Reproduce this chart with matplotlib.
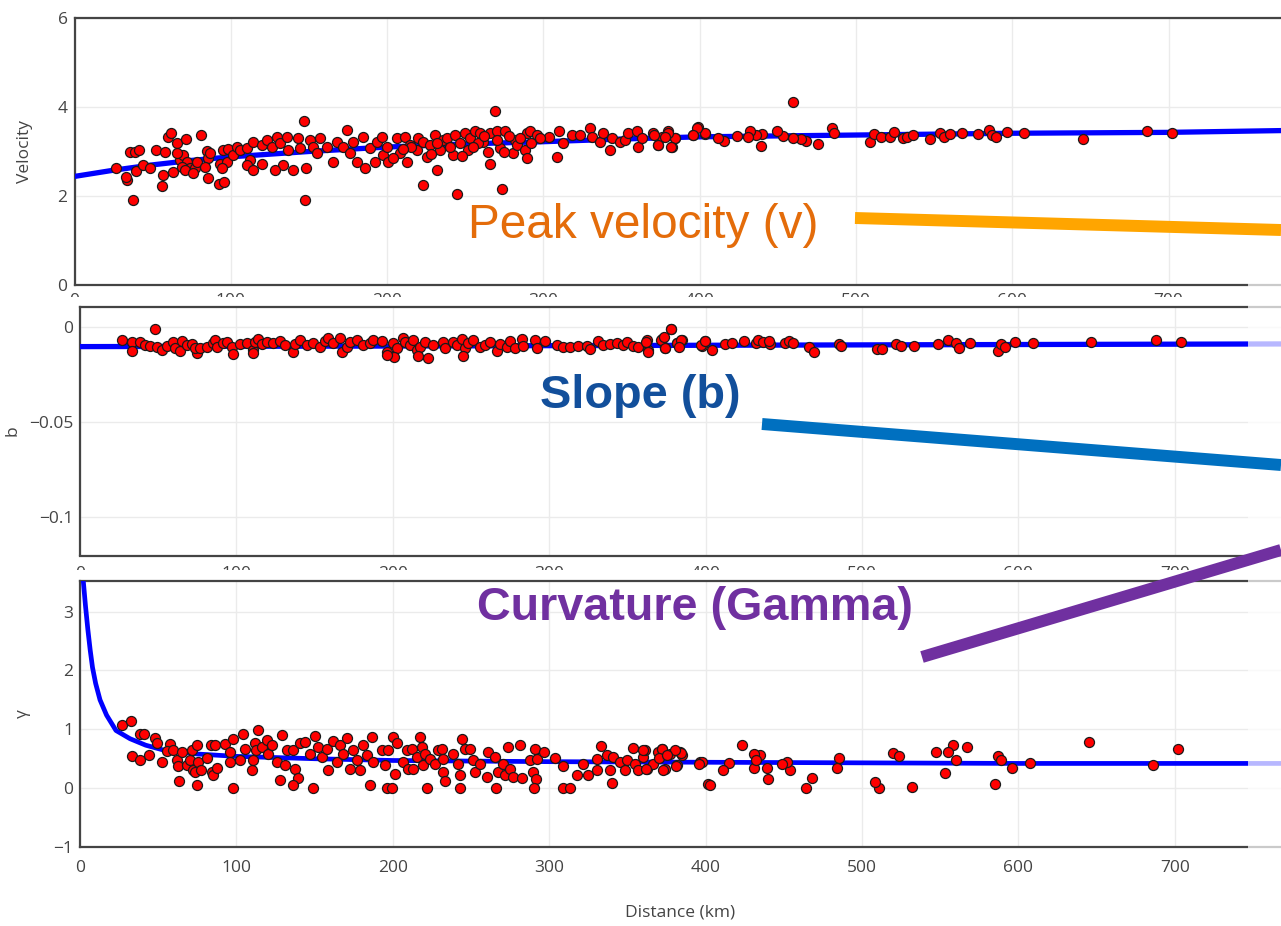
import matplotlib
matplotlib.use('Agg')
import matplotlib.pyplot as plt
from matplotlib.patches import Rectangle
from matplotlib.lines import Line2D
import matplotlib.transforms as mtransforms

# ---- data ----
vel_dist = [26.5, 33.4, 33.0, 37.6, 35.5, 38.7, 41.5, 39.3, 44.0, 48.3, 55.8, 56.4, 52.0, 57.9, 59.6, 61.5,
            65.4, 71.3, 63.2, 67.5, 69.6, 71.8, 73.9, 68.6, 70.7, 77.1, 78.2, 76.0, 65.4, 80.7, 84.6, 85.6,
            86.7, 83.5, 85.6, 92.7, 95.6, 93.1, 97.4, 94.2, 95.0, 98.4, 101.6, 103.8, 105.9, 110.2, 114.4,
            112.3, 110.2, 114.4, 119.8, 119.8, 123.0, 126.1, 129.4, 131.5, 133.6, 128.3, 135.7, 136.8, 140.0,
            143.2, 144.3, 146.8, 148.1, 147.5, 150.7, 152.8, 155.0, 157.1, 161.3, 165.6, 167.7, 172.0, 174.1,
            176.3, 178.4, 180.5, 184.8, 185.9, 189.0, 192.3, 193.3, 196.5, 197.6, 199.7, 200.8,
            206.2, 211.5, 214.7, 208.3, 204.0, 212.6, 219.0, 220.0, 223.2, 225.4, 223.2, 231.8, 227.5, 230.7,
            233.9, 236.0, 238.2, 242.4, 244.6, 243.5, 246.7, 249.9, 252.0, 253.1, 256.3, 259.5, 261.6, 264.8,
            265.9, 265.9, 269.1, 270.2, 272.3, 273.4, 275.5, 280.8, 281.9, 283.0, 288.3, 289.4, 289.4, 291.5,
            295.8, 303.9, 308.6, 310.3, 312.8, 318.2, 323.5, 329.9, 331.0, 336.3, 338.4, 342.7, 343.7, 349.1,
            352.3, 354.4, 359.7, 360.8, 362.9, 370.4, 373.6, 375.7, 380.0, 382.1, 384.3, 396.0, 398.6, 403.5,
            215.0, 228.0, 240.0, 248.0, 258.0, 262.0, 270.0, 278.0, 285.0, 292.0, 298.0, 210.0, 232.0, 255.0,
            275.0,
            459.7, 484.5, 485.8, 475.4, 468.3, 465.0, 459.7, 453.2, 449.3, 439.3, 440.1, 436.2, 432.3, 431.0,
            423.7, 415.8, 411.9, 403.6, 398.4, 395.7, 384.0, 381.4, 373.5, 371.0, 380.0, 377.5,
            508.8, 511.2, 515.8, 521.6, 524.2, 530.2, 532.8, 536.7, 547.2, 553.7, 556.3, 560.2, 567.5, 578.0,
            585.0, 586.9, 589.5, 596.3, 607.8, 645.1, 686.1, 702.0]
vel = [2.62, 2.36, 2.43, 1.91, 2.98, 3.00, 3.03, 2.56, 2.70, 2.64, 2.23, 2.47, 3.03, 3.00, 3.33, 3.41,
       3.18, 3.27, 2.53, 2.81, 2.92, 2.77, 2.62, 2.66, 2.58, 2.64, 2.77, 2.51, 2.96, 3.36, 3.01, 2.85,
       2.96, 2.66, 2.41, 2.26, 2.31, 2.73, 2.77, 2.62, 3.03, 3.06, 2.92, 3.11, 3.03, 3.07, 3.21,
       2.81, 2.70, 2.58, 3.15, 2.73, 3.26, 3.11, 3.33, 3.18, 2.70, 2.58, 3.33, 3.03, 2.58,
       3.30, 3.07, 3.69, 2.62, 1.91, 3.26, 3.11, 2.96, 3.30, 3.11, 2.77, 3.22, 3.11, 3.48,
       2.96, 3.22, 2.77, 3.33, 2.62, 3.07, 2.77, 3.22, 3.33, 2.92, 3.11, 2.77,
       3.30, 3.33, 3.15, 2.96, 2.85, 2.77, 3.03, 3.30, 3.22, 2.88, 2.25, 2.58, 3.15, 3.37,
       3.03, 3.26, 3.30, 2.92, 2.04, 3.37, 3.18, 3.41, 3.03, 3.30, 3.45, 3.41, 3.22, 3.00,
       2.73, 3.41, 3.90, 3.45, 3.07, 2.15, 3.46, 2.96, 3.26, 3.15, 3.03, 2.86, 3.41, 3.45,
       3.37, 3.33, 2.88, 3.45, 3.18, 3.36, 3.36, 3.52, 3.33, 3.22, 3.41, 3.03, 3.30, 3.22,
       3.26, 3.41, 3.45, 3.11, 3.30, 3.41, 3.15, 3.33, 3.45, 3.11, 3.30, 3.37, 3.54, 3.39,
       3.10, 2.95, 3.10, 2.90, 3.20, 3.35, 3.25, 3.35, 3.30, 3.20, 3.30, 3.05, 3.20, 3.10,
       3.00,
       4.12, 3.52, 3.41, 3.17, 3.24, 3.27, 3.30, 3.35, 3.45, 3.13, 3.39, 3.37, 3.45, 3.33,
       3.35, 3.24, 3.30, 3.41, 3.52, 3.37, 3.30, 3.11, 3.15, 3.37, 3.41, 3.33,
       3.21, 3.39, 3.33, 3.32, 3.44, 3.30, 3.33, 3.37, 3.28, 3.41, 3.33, 3.39, 3.42, 3.39,
       3.48, 3.36, 3.32, 3.44, 3.42, 3.27, 3.45, 3.41]
vel_fit_dist = [0, 25, 50, 75, 100, 150, 200, 250, 300, 350, 400, 500, 600, 700, 772]
vel_fit = [2.44, 2.58, 2.70, 2.80, 2.88, 3.00, 3.10, 3.17, 3.22, 3.28, 3.33, 3.37, 3.41, 3.43, 3.47]

b_dist = [26.6, 47.9, 33.0, 33.0, 38.4, 41.6, 44.8, 49.0, 52.2, 55.4, 59.7, 60.7, 63.9, 65.0, 68.2, 71.4,
          74.6, 73.5, 76.7, 81.0, 85.2, 86.3, 87.4, 91.6, 93.8, 97.0, 98.0, 102.3, 106.6, 110.8, 111.9,
          114.0, 116.1, 119.3, 123.6, 127.9, 131.1, 136.4, 137.4, 140.6, 144.9, 149.2, 153.4, 156.6, 158.8,
          162.0, 166.2, 167.3, 170.5, 172.6, 176.9, 181.1, 185.4, 187.5, 192.9, 196.1,
          200.3, 202.5, 206.7, 207.8, 211.0, 213.1, 215.2, 217.4, 220.6, 222.7, 225.9, 232.3, 233.4, 238.7,
          240.8, 244.0, 246.1, 248.3, 251.5, 255.7, 258.9, 262.1, 266.4, 268.5, 272.8, 274.9, 278.1, 282.4,
          283.4, 290.9, 292.0, 297.3, 304.7, 309.0, 313.3, 318.6, 323.9, 326.1, 331.4, 334.6, 338.8, 343.1,
          347.4, 349.5, 353.8, 357.0, 362.3, 363.4, 371.9, 377.6, 374.0, 381.5, 384.7, 397.4, 399.6,
          200.6, 196.0, 216.0, 245.0, 110.6,
          362.0, 363.3, 371.2, 373.2, 377.7, 374.3, 381.6, 384.2, 382.9, 397.3, 399.3, 404.3, 412.4, 416.8,
          424.7, 432.5, 433.8, 436.9, 441.1, 440.3, 450.8, 453.4, 456.0, 465.9, 469.5, 485.5, 486.5, 509.5,
          513.1, 522.0, 525.1, 533.5, 548.4, 555.2, 560.4, 562.2, 569.0, 586.7, 588.6, 591.2, 597.7, 609.2,
          646.5, 688.0, 703.7]
b_slope = [-0.0070, -0.0012, -0.0079, -0.0128, -0.0082, -0.0096, -0.0100, -0.0105, -0.0123, -0.0100,
           -0.0079, -0.0110, -0.0128, -0.0075, -0.0096, -0.0093, -0.0140, -0.0114, -0.0114, -0.0105,
           -0.0087, -0.0070, -0.0105, -0.0087, -0.0079, -0.0105, -0.0145, -0.0093, -0.0087, -0.0123,
           -0.0079, -0.0065, -0.0093, -0.0079, -0.0087, -0.0075, -0.0096, -0.0131, -0.0093, -0.0070,
           -0.0096, -0.0087, -0.0105, -0.0075, -0.0061, -0.0087, -0.0058, -0.0135, -0.0105, -0.0079,
           -0.0070, -0.0096, -0.0087, -0.0070, -0.0075, -0.0135,
           -0.0087, -0.0114, -0.0061, -0.0079, -0.0096, -0.0070, -0.0123, -0.0105, -0.0079, -0.0163,
           -0.0096, -0.0079, -0.0114, -0.0079, -0.0096, -0.0065, -0.0114, -0.0087, -0.0070, -0.0105,
           -0.0096, -0.0079, -0.0128, -0.0093, -0.0105, -0.0075, -0.0114, -0.0065, -0.0100, -0.0070,
           -0.0114, -0.0075, -0.0096, -0.0105, -0.0105, -0.0100, -0.0100, -0.0117, -0.0075, -0.0096,
           -0.0093, -0.0087, -0.0096, -0.0079, -0.0100, -0.0105, -0.0070, -0.0123, -0.0065, -0.0012,
           -0.0114, -0.0087, -0.0070, -0.0100, -0.0075,
           -0.0158, -0.0147, -0.0155, -0.0155, -0.0140,
           -0.0079, -0.0131, -0.0070, -0.0052, -0.0014, -0.0114, -0.0088, -0.0070, -0.0105, -0.0096,
           -0.0073, -0.0123, -0.0093, -0.0088, -0.0073, -0.0084, -0.0070, -0.0079, -0.0093, -0.0073,
           -0.0084, -0.0073, -0.0088, -0.0109, -0.0131, -0.0093, -0.0102, -0.0116, -0.0119, -0.0091,
           -0.0100, -0.0102, -0.0091, -0.0070, -0.0088, -0.0110, -0.0084, -0.0128, -0.0093, -0.0105,
           -0.0079, -0.0088, -0.0079, -0.0070, -0.0082]
b_fit_dist = [0, 200, 400, 600, 768]
b_fit = [-0.0105, -0.0102, -0.0098, -0.0094, -0.0091]

g_dist = [26.6, 32.6, 33.0, 38.4, 38.4, 41.1, 44.3, 48.0, 49.0, 52.2, 57.5, 55.8, 59.7, 61.8, 62.9, 63.3,
          65.0, 68.2, 70.3, 71.4, 72.5, 73.5, 74.6, 75.7, 77.1, 74.6, 81.0, 83.5, 86.3, 84.2, 85.2, 87.4,
          92.7, 95.9, 97.6, 95.9, 97.6, 102.3, 104.4, 105.5, 109.7, 110.8, 111.9, 112.5, 114.0, 116.1,
          119.3, 120.4, 122.5, 125.7, 128.9, 127.9, 131.1, 132.1, 136.4, 137.4, 139.6, 136.4, 140.6, 143.8,
          147.0, 149.2, 150.2, 152.4, 154.5, 157.7, 158.8, 162.0, 164.1, 166.2, 168.3, 170.5, 172.6, 174.7,
          176.9, 179.0, 181.1, 183.3, 185.4, 186.5, 187.5, 192.9, 195.0, 196.1, 197.1,
          200.3, 202.5, 201.4, 199.3, 206.7, 208.9, 209.9, 212.0, 213.1, 215.2, 217.4, 218.4, 219.5, 220.6,
          221.6, 223.8, 227.0, 229.1, 231.2, 232.3, 233.4, 232.3, 238.7, 241.9, 243.0, 244.0, 243.0, 246.1,
          249.3, 251.5, 252.5, 255.7, 260.0, 261.1, 265.3, 266.0, 267.5, 270.7, 271.7, 273.9, 274.9, 277.0,
          281.3, 282.4, 287.7, 289.8, 290.9, 291.3, 290.3, 292.0, 296.7, 303.7, 309.0, 308.6, 313.3, 317.5,
          321.8, 325.0, 330.3, 330.3, 332.9, 336.7, 338.8, 339.9, 341.0, 345.2, 348.4, 349.5, 353.8, 354.8,
          357.0, 360.2, 361.2, 362.3, 366.5, 369.7, 371.9, 374.0, 377.2, 381.5, 383.6, 384.7, 396.4, 401.7,
          645.0, 702.0, 686.0, 607.6, 596.0, 585.0, 587.0, 589.0, 567.0, 558.5, 555.0, 560.0, 553.0, 547.0,
          532.0, 511.0, 508.0, 520.0, 523.5, 485.0, 484.0, 468.0, 464.0, 454.0, 452.0, 448.6, 440.0, 439.0,
          435.0, 431.0, 431.0, 432.0, 423.5, 415.0, 411.0, 403.0, 397.6, 395.6, 384.0, 381.0, 380.7, 373.0,
          372.0, 370.0, 375.0, 361.6, 360.0]
gamma = [1.08, 1.14, 0.54, 0.48, 0.92, 0.92, 0.57, 0.86, 0.77, 0.45, 0.75, 0.63, 0.64, 0.48, 0.37, 0.12,
         0.61, 0.39, 0.48, 0.65, 0.30, 0.27, 0.73, 0.44, 0.30, 0.05, 0.52, 0.74, 0.73, 0.27, 0.23, 0.35,
         0.75, 0.61, 0.84, 0.44, 0.01, 0.47, 0.92, 0.67, 0.30, 0.47, 0.77, 0.64, 0.99, 0.70,
         0.81, 0.58, 0.73, 0.44, 0.91, 0.14, 0.39, 0.64, 0.64, 0.33, 0.18, 0.05, 0.76, 0.78,
         0.58, 0.01, 0.88, 0.70, 0.53, 0.67, 0.30, 0.80, 0.44, 0.73, 0.58, 0.86, 0.33, 0.64,
         0.47, 0.30, 0.73, 0.57, 0.06, 0.87, 0.44, 0.64, 0.39, 0.01, 0.64,
         0.87, 0.76, 0.24, 0.01, 0.44, 0.64, 0.33, 0.67, 0.33, 0.53, 0.87, 0.70, 0.39, 0.58,
         0.01, 0.50, 0.41, 0.64, 0.67, 0.27, 0.13, 0.50, 0.58, 0.41, 0.01, 0.84, 0.22, 0.67,
         0.67, 0.47, 0.27, 0.41, 0.19, 0.61, 0.53, 0.01, 0.27, 0.41, 0.22, 0.70, 0.33, 0.19,
         0.73, 0.18, 0.47, 0.27, 0.67, 0.16, 0.01, 0.50, 0.61, 0.52, 0.37, 0.01, 0.01, 0.22,
         0.41, 0.23, 0.50, 0.30, 0.71, 0.56, 0.31, 0.09, 0.53, 0.44, 0.30, 0.47, 0.69, 0.41,
         0.30, 0.53, 0.64, 0.33, 0.41, 0.61, 0.67, 0.33, 0.58, 0.39, 0.61, 0.56, 0.44, 0.07,
         0.78, 0.67, 0.39, 0.43, 0.35, 0.07, 0.55, 0.47, 0.70, 0.73, 0.61, 0.48, 0.26, 0.61,
         0.02, 0.00, 0.11, 0.59, 0.54, 0.51, 0.34, 0.18, 0.00, 0.31, 0.45, 0.41, 0.16, 0.35,
         0.57, 0.58, 0.35, 0.47, 0.73, 0.42, 0.30, 0.05, 0.44, 0.41, 0.59, 0.37, 0.65, 0.31,
         0.66, 0.51, 0.57, 0.32, 0.65]
g_fit_dist = [2, 3.5, 5, 6.5, 8, 10, 12.8, 17, 23, 32, 42, 53, 75, 100, 150, 200, 300, 400, 500, 600, 700, 768]
g_fit = [3.55, 3.1, 2.7, 2.35, 2.05, 1.78, 1.5, 1.24, 0.98, 0.84, 0.73, 0.65, 0.58, 0.54, 0.50, 0.47,
         0.45, 0.44, 0.43, 0.42, 0.42, 0.42]

x_ticks = [0, 100, 200, 300, 400, 500, 600, 700]
vel_ticks = [0, 2, 4, 6]
b_ticks = [-0.1, -0.05, 0]
b_tick_labels = ['\u22120.1', '\u22120.05', '0']
g_ticks = [-1, 0, 1, 2, 3]
g_tick_labels = ['\u22121', '0', '1', '2', '3']

# ---- layout (pixels of the 1281x926 image) ----
W, H = 1281, 926
fig = plt.figure(figsize=(W / 100, H / 100), dpi=100)
plt.rcParams['font.family'] = ['Open Sans', 'DejaVu Sans']

GREY = '#444444'


def add_panel(left, top, bottom, zorder):
    ax = fig.add_axes([left / W, 1 - bottom / H, (W - left) / W, (bottom - top) / H])
    ax.set_zorder(zorder)
    for side in ['left', 'top', 'bottom']:
        ax.spines[side].set_color(GREY)
        ax.spines[side].set_linewidth(1.6)
    ax.spines['right'].set_visible(False)
    ax.grid(True, color='#ebebeb', linewidth=1.0)
    ax.set_axisbelow(True)
    ax.tick_params(length=0, labelsize=12.5, labelcolor=GREY)
    return ax


def fade(ax, x0, y0=-0.02, y1=1.02, z=10):
    tr = mtransforms.blended_transform_factory(ax.transData, ax.transAxes)
    ax.add_patch(Rectangle((x0, y0), 1000, y1 - y0, transform=tr, facecolor='white',
                           edgecolor='none', alpha=0.72, zorder=z, clip_on=False))


def scatter(ax, x, y):
    ax.scatter(x, y, s=52, c='#ff0000', edgecolors='#1a1a1a', linewidths=0.9, zorder=4)


# top panel
ax1 = add_panel(74.5, 18, 285, 1)
ax1.plot(vel_fit_dist, vel_fit, color='#0000ff', lw=3.8, zorder=3)
scatter(ax1, vel_dist, vel)
ax1.set_xlim(0, (W - 74.5) / 1.563)
ax1.set_ylim(0, 6)
ax1.set_xticks(x_ticks)
ax1.set_yticks(vel_ticks)
ax1.tick_params(axis='x', pad=6)
ax1.tick_params(axis='y', pad=5)
ax1.set_ylabel('Velocity', fontsize=12.5, color=GREY, labelpad=18)
fade(ax1, 750.5, -0.03, 0.03, z=2.6)

# middle panel
ax2 = add_panel(80, 306.5, 555.5, 3)
ax2.plot(b_fit_dist, b_fit, color='#0000ff', lw=3.8, zorder=3)
scatter(ax2, b_dist, b_slope)
ax2.set_xlim(0, (W - 80) / 1.564)
ax2.set_ylim(-0.1204, 0.0106)
ax2.set_xticks(x_ticks)
ax2.set_yticks(b_ticks)
ax2.set_yticklabels(b_tick_labels)
ax2.tick_params(axis='x', pad=7.5)
ax2.tick_params(axis='y', pad=5)
ax2.set_ylabel('b', fontsize=12.5, color=GREY, labelpad=6)
fade(ax2, 747)

# bottom panel
ax3 = add_panel(80, 581, 847, 5)
ax3.plot(g_fit_dist, g_fit, color='#0000ff', lw=3.4, zorder=3)
scatter(ax3, g_dist, gamma)
ax3.set_xlim(0, (W - 80) / 1.564)
ax3.set_ylim(-1, 3.52)
ax3.set_xticks(x_ticks)
ax3.set_yticks(g_ticks)
ax3.set_yticklabels(g_tick_labels)
ax3.tick_params(axis='x', pad=9)
ax3.tick_params(axis='y', pad=5)
ax3.set_ylabel('\u03b3', fontsize=12.5, color=GREY, labelpad=16)
ax3.set_xlabel('Distance (km)', fontsize=12.5, color=GREY, labelpad=21)
fade(ax3, 747)

# white backgrounds of the stacked screenshots, hiding clipped tick labels
fig.patches.append(Rectangle((0, 1 - 570 / H), 1, (570 - 297) / H, transform=fig.transFigure,
                             facecolor='white', edgecolor='none', zorder=2))
fig.patches.append(Rectangle((0, 0), 1, (H - 570) / H, transform=fig.transFigure,
                             facecolor='white', edgecolor='none', zorder=4))

# ---- overlaid annotations ----
narrow = ['Liberation Sans Narrow', 'Liberation Sans', 'DejaVu Sans']
renderer = fig.canvas.get_renderer()


def label(text, x, y, width, color, weight):
    t = fig.text(x / W, 1 - y / H, text, color=color, fontsize=40, fontweight=weight,
                 family=narrow, va='baseline', ha='left', zorder=20)
    w = t.get_window_extent(renderer).width
    t.set_fontsize(40 * width / w)
    return t


def bar(x0, y0, x1, y1, color):
    fig.lines.append(Line2D([x0 / W, x1 / W], [1 - y0 / H, 1 - y1 / H], transform=fig.transFigure,
                            color=color, lw=8.6, solid_capstyle='butt', zorder=20))


label('Peak velocity (v)', 468, 238, 350, '#e46c0a', 'normal')
label('Slope (b)', 540, 408, 200, '#124f9b', 'bold')
label('Curvature (Gamma)', 477, 620, 436, '#7030a0', 'bold')
bar(855, 218, 1281, 230, '#ffa500')
bar(762, 424, 1281, 465, '#0070c0')
bar(922, 657, 1281, 550, '#7030a0')

fig.savefig('out.png', dpi=100)
